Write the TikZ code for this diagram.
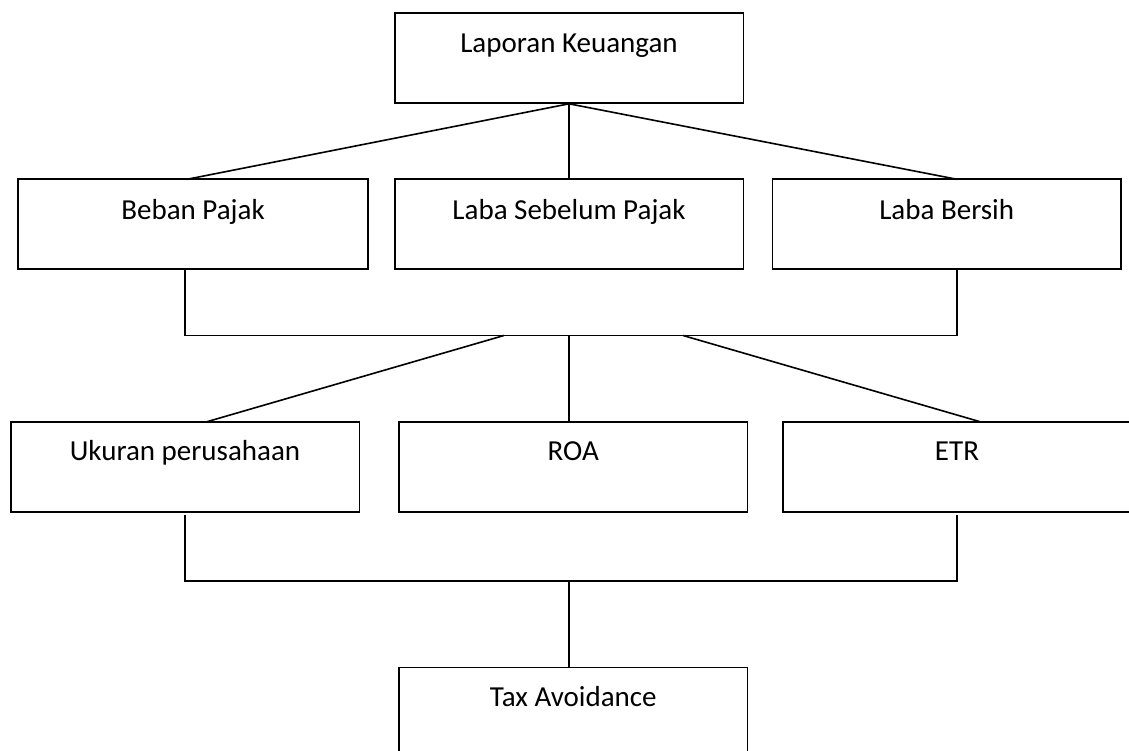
\documentclass[tikz,border=0pt]{standalone}
\usepackage{fontspec}
\setmainfont{Carlito}
\begin{document}
\begin{tikzpicture}[x=1pt,y=-1pt,
  box/.style={draw, line width=1.6pt, rectangle, inner sep=0pt, anchor=base,
    minimum width=348.6pt, font=\fontsize{29}{34}\selectfont},
  row1/.style={text height=40pt, text depth=50pt},
  row2/.style={text height=38.5pt, text depth=51.5pt},
  conn/.style={line width=1.6pt}]
\useasboundingbox (0,0) rectangle (1129,751);
\node[box,row1] (lk) at (569,53) {Laporan Keuangan};
\node[box,row1,minimum width=350pt] (bp) at (193,219.3) {Beban Pajak};
\node[box,row1] (lsp) at (569,219.3) {Laba Sebelum Pajak};
\node[box,row1] (lb) at (946.7,219.3) {Laba Bersih};
\node[box,row2] (up) at (185,460.2) {Ukuran perusahaan};
\node[box,row2] (roa) at (573.3,460.2) {ROA};
\node[box,row2] (etr) at (957,460.2) {ETR};
\node[box,text height=38.7pt,text depth=52pt] (ta) at (573.3,706) {Tax Avoidance};
\coordinate (bpin) at (187,179.3);
\coordinate (lbin) at (957,179.3);
\coordinate (bpout) at (185,269.3);
\coordinate (lbout) at (957,269.3);
\coordinate (jl) at (504,335.5);
\coordinate (jr) at (683,335.5);
\coordinate (jc) at (569,335.5);
\coordinate (upin) at (207,421.7);
\coordinate (etrin) at (980,421.7);
\coordinate (roain) at (569,421.7);
\coordinate (upout) at (185,515);
\coordinate (etrout) at (957,515);
\coordinate (jb) at (569,581);
\coordinate (tain) at (569,667.3);
\draw[conn] (lk.south) -- (bpin);
\draw[conn] (lk.south) -- (lsp.north);
\draw[conn] (lk.south) -- (lbin);
\draw[conn] (bpout) |- (jc) -| (lbout);
\draw[conn] (jl) -- (upin);
\draw[conn] (jr) -- (etrin);
\draw[conn] (jc) -- (roain);
\draw[conn] (upout) |- (jb) -| (etrout);
\draw[conn] (jb) -- (tain);
\end{tikzpicture}
\end{document}
